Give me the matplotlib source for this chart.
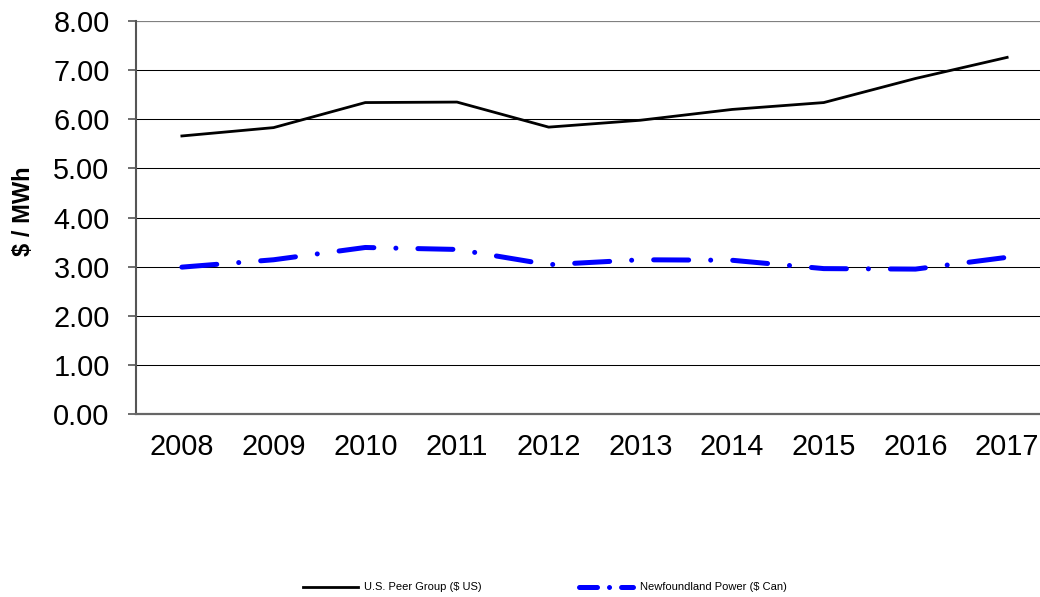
import matplotlib
matplotlib.use('Agg')
import matplotlib.pyplot as plt
from matplotlib.lines import Line2D

plt.rcParams['font.family'] = ['Liberation Sans', 'DejaVu Sans']

# data
years = ['2008', '2009', '2010', '2011', '2012', '2013', '2014', '2015', '2016', '2017']
us_peer = [5.66, 5.83, 6.34, 6.35, 5.84, 5.98, 6.20, 6.34, 6.83, 7.26]
nf_power = [2.99, 3.14, 3.39, 3.35, 3.04, 3.14, 3.13, 2.96, 2.95, 3.19]
y_ticks = [0, 1, 2, 3, 4, 5, 6, 7, 8]

fig = plt.figure(figsize=(10.4, 5.97), dpi=100)
ax = fig.add_axes([0.1308, 0.3065, 0.8817, 0.6583])

x = range(len(years))

# gridlines (top one is grey like the plot border)
for v in y_ticks[1:-1]:
    ax.axhline(v, color='black', lw=0.75, zorder=1)
ax.axhline(y_ticks[-1], color='#808080', lw=1.6, zorder=1)

ax.plot(x, us_peer, color='black', lw=2.0, zorder=3)
ax.plot(x, nf_power, color='#0000ff', lw=3.6, dash_capstyle='round',
        linestyle=(0, (7, 4.4, 0.01, 4.4)), zorder=3)

ax.set_xlim(-0.5, 9.5)
ax.set_ylim(0, 8)
ax.set_xticks(list(x))
ax.set_xticklabels(years)
ax.set_yticks(y_ticks)
ax.set_yticklabels(['%.2f' % v for v in y_ticks])

ax.tick_params(axis='y', direction='out', length=6, width=1.2, color='#555555',
               labelsize=20.8, pad=13)
ax.tick_params(axis='x', length=0, labelsize=20.8, pad=14)

for s in ['top', 'right']:
    ax.spines[s].set_visible(False)
ax.spines['left'].set_color('#555555')
ax.spines['left'].set_linewidth(1.5)
ax.spines['bottom'].set_color('#666666')
ax.spines['bottom'].set_linewidth(1.6)

ax.set_ylabel('$ / MWh', fontsize=17, fontweight='bold')
ax.yaxis.set_label_coords(-0.110, 0.515)

# legend handles drawn with a shorter dash pattern, like the original
handles = [
    Line2D([], [], color='black', lw=2.0),
    Line2D([], [], color='#0000ff', lw=3.6, dash_capstyle='round',
           linestyle=(0, (3.6, 2.4, 0.01, 2.4))),
]
labels = ['U.S. Peer Group ($ US)', 'Newfoundland Power ($ Can)']
fig.legend(handles, labels, loc='center', bbox_to_anchor=(0.524, 0.016), ncol=2,
           frameon=False, fontsize=8, handlelength=4.9, handletextpad=0.6,
           columnspacing=8.7)

fig.savefig('out.png', dpi=100)
